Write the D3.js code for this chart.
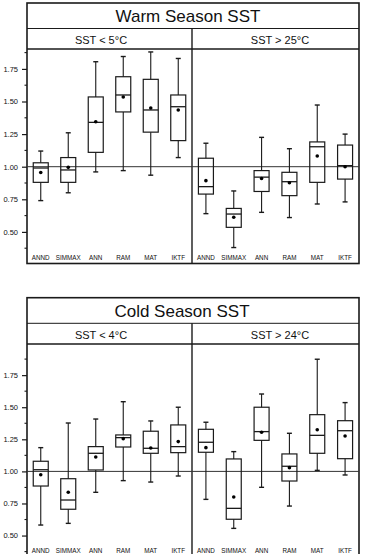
<!DOCTYPE html>
<html><head><meta charset="utf-8">
<script src="https://cdn.jsdelivr.net/npm/d3@7"></script>
<style>body{margin:0;background:#fff}svg{display:block}</style>
</head><body>
<svg id="c" width="366" height="554"></svg>
<script>
const categories = ["ANND","SIMMAX","ANN","RAM","MAT","IKTF"];
const majorTicks = [0.5,0.75,1.0,1.25,1.5,1.75];
const minorTicks = [0.375,0.625,0.875,1.125,1.375,1.625,1.875];
const seasonTitles = ["Warm Season SST","Cold Season SST"];
const warmSubtitles = ["SST < 5°C","SST > 25°C"];
const coldSubtitles = ["SST < 4°C","SST > 24°C"];

// Warm season, SST < 5°C
const warmLowMin  = [0.74, 0.80, 0.96, 0.97, 0.935, 1.07];
const warmLowQ1   = [0.88, 0.88, 1.11, 1.42, 1.265, 1.20];
const warmLowMed  = [0.99, 0.975, 1.34, 1.55, 1.435, 1.46];
const warmLowQ3   = [1.03, 1.07, 1.535, 1.69, 1.67, 1.55];
const warmLowMax  = [1.12, 1.26, 1.805, 1.845, 1.88, 1.83];
const warmLowMean = [0.955, 0.995, 1.345, 1.535, 1.45, 1.435];
// Warm season, SST > 25°C
const warmHighMin  = [0.64, 0.38, 0.65, 0.61, 0.714, 0.73];
const warmHighQ1   = [0.79, 0.535, 0.81, 0.778, 0.88, 0.905];
const warmHighMed  = [0.847, 0.637, 0.92, 0.885, 1.153, 1.008];
const warmHighQ3   = [1.065, 0.68, 0.97, 0.957, 1.19, 1.166];
const warmHighMax  = [1.18, 0.814, 1.225, 1.138, 1.473, 1.25];
const warmHighMean = [0.893, 0.612, 0.91, 0.877, 1.082, 1.00];
// Cold season, SST < 4°C
const coldLowMin  = [0.582, 0.595, 0.837, 0.928, 0.917, 0.964];
const coldLowQ1   = [0.886, 0.705, 1.011, 1.19, 1.141, 1.146];
const coldLowMed  = [1.013, 0.777, 1.141, 1.263, 1.18, 1.193];
const coldLowQ3   = [1.079, 0.943, 1.193, 1.284, 1.313, 1.362];
const coldLowMax  = [1.185, 1.377, 1.408, 1.543, 1.393, 1.50];
const coldLowMean = [0.974, 0.837, 1.112, 1.255, 1.182, 1.232];
// Cold season, SST > 24°C
const coldHighMin  = [0.782, 0.556, 0.876, 0.73, 1.008, 0.972];
const coldHighQ1   = [1.149, 0.627, 1.242, 0.925, 1.141, 1.099];
const coldHighMed  = [1.227, 0.712, 1.31, 1.04, 1.281, 1.317];
const coldHighQ3   = [1.328, 1.097, 1.50, 1.136, 1.442, 1.395];
const coldHighMax  = [1.383, 1.154, 1.603, 1.297, 1.874, 1.536];
const coldHighMean = [1.185, 0.80, 1.305, 1.029, 1.325, 1.276];

function pack(mn,q1,md,q3,mx,me){
  return categories.map((c,i)=>({cat:c,min:mn[i],q1:q1[i],med:md[i],q3:q3[i],max:mx[i],mean:me[i]}));
}

const svg = d3.select("#c");
const L = 27, M = 192, R = 359;
const ink = "#1a1a1a";

const panels = [
  {title:seasonTitles[0], subs:warmSubtitles, top:3, bandA:28.5, bandB:49, bottom:263.5,
   y:d3.scaleLinear().domain([0.375,1.875]).range([248.2,52.6]), axisTop:52, titleX:188,
   data:[pack(warmLowMin,warmLowQ1,warmLowMed,warmLowQ3,warmLowMax,warmLowMean),
         pack(warmHighMin,warmHighQ1,warmHighMed,warmHighQ3,warmHighMax,warmHighMean)]},
  {title:seasonTitles[1], subs:coldSubtitles, top:297.7, bandA:323.3, bandB:344, bottom:556,
   y:d3.scaleLinear().domain([0.375,1.875]).range([551.6,359.1]), axisTop:359, titleX:182,
   data:[pack(coldLowMin,coldLowQ1,coldLowMed,coldLowQ3,coldLowMax,coldLowMean),
         pack(coldHighMin,coldHighQ1,coldHighMed,coldHighQ3,coldHighMax,coldHighMean)]}
];

const xs = [d3.scaleBand().domain(categories).range([L,M]).padding(0),
            d3.scaleBand().domain(categories).range([M,R]).padding(0)];
const subX = [101, 280];
const boxW = 15, capW = 5;

panels.forEach(p=>{
  const g = svg.append("g");
  const y = p.y;
  // frame
  g.append("rect").attr("x",L).attr("y",p.top).attr("width",R-L).attr("height",p.bottom-p.top)
    .attr("fill","none").attr("stroke",ink).attr("stroke-width",1.6);
  g.append("line").attr("x1",L).attr("x2",R).attr("y1",p.bandA).attr("y2",p.bandA)
    .attr("stroke",ink).attr("stroke-width",1);
  g.append("line").attr("x1",L).attr("x2",R).attr("y1",p.bandB).attr("y2",p.bandB)
    .attr("stroke",ink).attr("stroke-width",1.6);
  g.append("line").attr("x1",M).attr("x2",M).attr("y1",p.bandA).attr("y2",p.bottom)
    .attr("stroke",ink).attr("stroke-width",1.4);
  // titles
  g.append("text").attr("x",p.titleX).attr("y",p.top+19).attr("text-anchor","middle")
    .attr("font-family","Liberation Sans, Arial, sans-serif").attr("font-size",17).attr("fill","#111")
    .text(p.title);
  p.subs.forEach((s,i)=>{
    g.append("text").attr("x",subX[i]).attr("y",p.bandA+15.5).attr("text-anchor","middle")
      .attr("font-family","Liberation Sans, Arial, sans-serif").attr("font-size",11).attr("fill","#111")
      .text(s);
  });
  // y axis
  const ax = d3.axisLeft(y).tickValues(majorTicks).tickSize(5).tickPadding(4)
    .tickFormat(d3.format(".2f"));
  const axg = g.append("g").attr("transform",`translate(${L},0)`).call(ax);
  axg.select(".domain").remove();
  axg.selectAll("line").attr("stroke",ink).attr("stroke-width",1.2);
  axg.selectAll("text").attr("font-family","Liberation Sans, Arial, sans-serif")
    .attr("font-size",7.5).attr("fill","#111");
  g.append("g").selectAll("line").data(minorTicks).join("line")
    .attr("x1",L-2.5).attr("x2",L).attr("y1",d=>y(d)).attr("y2",d=>y(d))
    .attr("stroke",ink).attr("stroke-width",1.1);
  // reference line at 1.00
  g.append("line").attr("x1",L).attr("x2",R).attr("y1",y(1)).attr("y2",y(1))
    .attr("stroke","#333").attr("stroke-width",1);
  // boxes
  p.data.forEach((data,pi)=>{
    const x = xs[pi];
    const cx = d=>x(d.cat)+x.bandwidth()/2;
    const bg = g.append("g");
    const grp = bg.selectAll("g").data(data).join("g");
    grp.append("line").attr("x1",cx).attr("x2",cx).attr("y1",d=>y(d.max)).attr("y2",d=>y(d.q3))
      .attr("stroke",ink).attr("stroke-width",1.1);
    grp.append("line").attr("x1",cx).attr("x2",cx).attr("y1",d=>y(d.q1)).attr("y2",d=>y(d.min))
      .attr("stroke",ink).attr("stroke-width",1.1);
    grp.append("line").attr("x1",d=>cx(d)-capW/2).attr("x2",d=>cx(d)+capW/2)
      .attr("y1",d=>y(d.max)).attr("y2",d=>y(d.max)).attr("stroke",ink).attr("stroke-width",1.4);
    grp.append("line").attr("x1",d=>cx(d)-capW/2).attr("x2",d=>cx(d)+capW/2)
      .attr("y1",d=>y(d.min)).attr("y2",d=>y(d.min)).attr("stroke",ink).attr("stroke-width",1.4);
    grp.append("rect").attr("x",d=>cx(d)-boxW/2).attr("width",boxW)
      .attr("y",d=>y(d.q3)).attr("height",d=>y(d.q1)-y(d.q3))
      .attr("fill","#fff").attr("fill-opacity",0).attr("stroke",ink).attr("stroke-width",1.2);
    grp.append("line").attr("x1",d=>cx(d)-boxW/2).attr("x2",d=>cx(d)+boxW/2)
      .attr("y1",d=>y(d.med)).attr("y2",d=>y(d.med)).attr("stroke",ink).attr("stroke-width",1.3);
    grp.append("circle").attr("cx",cx).attr("cy",d=>y(d.mean)).attr("r",1.8).attr("fill","#000");
    // category labels
    bg.selectAll("text.cat").data(categories).join("text").attr("class","cat")
      .attr("x",d=>x(d)+x.bandwidth()/2).attr("y",p===panels[0]?259.7:553)
      .attr("text-anchor","middle").attr("font-family","Liberation Sans, Arial, sans-serif")
      .attr("font-size",6.3).attr("fill","#111").text(d=>d);
  });
});
</script>
</body></html>
